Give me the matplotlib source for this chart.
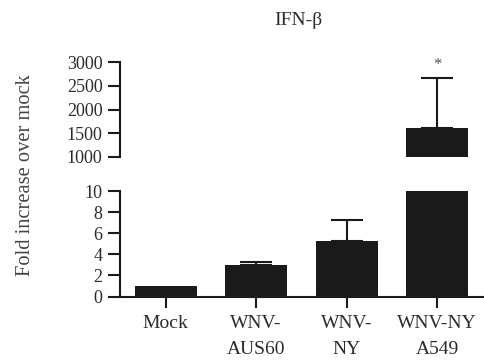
import matplotlib
matplotlib.use("Agg")
import matplotlib.pyplot as plt


# =========================
# Data
# =========================

CATEGORIES = ["Mock", "WNV-\nAUS60", "WNV-\nNY", "WNV-NY\nA549"]
FOLD_CHANGE = [1.0, 3.0, 5.3, 1610]
FOLD_ERR = [0.0, 0.3, 2.0, 1050]
TOP_TICKS = [1000, 1500, 2000, 2500, 3000]
LOW_TICKS = [0, 2, 4, 6, 8, 10]
SIG_LABEL = "*"

OUTPUT_FILE = "out.png"


# =========================
# Style
# =========================

plt.rcParams["font.family"] = ["Liberation Serif", "DejaVu Serif"]
plt.rcParams["text.color"] = "#2b2b2b"
plt.rcParams["xtick.color"] = "#1a1a1a"
plt.rcParams["ytick.color"] = "#1a1a1a"
plt.rcParams["xtick.labelcolor"] = "#2b2b2b"
plt.rcParams["ytick.labelcolor"] = "#2b2b2b"

BAR_COLOR = "#1a1a1a"
LINE_W = 1.5


def style_axis(ax):
    for side in ["top", "right", "bottom"]:
        ax.spines[side].set_visible(False)
    ax.spines["left"].set_linewidth(LINE_W)
    ax.spines["left"].set_color("#1a1a1a")
    ax.tick_params(axis="y", direction="out", length=8.5, width=LINE_W,
                   labelsize=13, pad=4)
    ax.tick_params(axis="y", which="minor", direction="in", length=4.5,
                   width=LINE_W)


def main():
    fig = plt.figure(figsize=(4.85, 3.62), dpi=100)
    ax_top = fig.add_axes([0.2474, 0.5663, 0.7526, 0.2624])
    ax_low = fig.add_axes([0.2474, 0.1809, 0.7526, 0.2914])

    x = list(range(len(CATEGORIES)))
    # only draw error bars where there is an error
    err_x = [xi for xi, e in zip(x, FOLD_ERR) if e > 0]
    err_y = [v for v, e in zip(FOLD_CHANGE, FOLD_ERR) if e > 0]
    err_v = [e for e in FOLD_ERR if e > 0]

    for ax in (ax_top, ax_low):
        ax.bar(x, FOLD_CHANGE, width=0.685, color=BAR_COLOR, zorder=2)
        ax.errorbar(err_x, err_y, yerr=[[0] * len(err_v), err_v],
                    fmt="none", ecolor=BAR_COLOR, elinewidth=LINE_W,
                    capsize=11.5, capthick=LINE_W, zorder=1)
        ax.set_xlim(-0.503, 3.53)
        style_axis(ax)

    # Upper (broken) axis
    ax_top.set_ylim(TOP_TICKS[0], TOP_TICKS[-1])
    ax_top.set_yticks(TOP_TICKS)
    ax_top.set_yticks([TOP_TICKS[0]], minor=True)
    ax_top.set_xticks([])
    ax_top.set_title("IFN-β", fontsize=14, x=0.49, pad=27)

    top_i = len(FOLD_CHANGE) - 1
    ax_top.annotate(SIG_LABEL, (x[top_i], FOLD_CHANGE[top_i] + FOLD_ERR[top_i]),
                    xytext=(0, 4), textcoords="offset points",
                    ha="center", va="bottom", fontsize=12, color="#555555")

    # Lower axis
    ax_low.set_ylim(LOW_TICKS[0], LOW_TICKS[-1])
    ax_low.set_yticks(LOW_TICKS)
    ax_low.set_yticks([LOW_TICKS[-1]], minor=True)
    ax_low.spines["bottom"].set_visible(True)
    ax_low.spines["bottom"].set_linewidth(LINE_W)
    ax_low.spines["bottom"].set_color("#1a1a1a")
    ax_low.set_xticks(x)
    ax_low.set_xticklabels(CATEGORIES, linespacing=1.7)
    ax_low.tick_params(axis="x", direction="out", length=8, width=LINE_W,
                       labelsize=14, pad=5)

    fig.text(0.052, 0.517, "Fold increase over mock", rotation=90,
             ha="center", va="center", fontsize=14.8, color="#444444")

    fig.savefig(OUTPUT_FILE, dpi=100)
    plt.close(fig)


if __name__ == "__main__":
    main()
